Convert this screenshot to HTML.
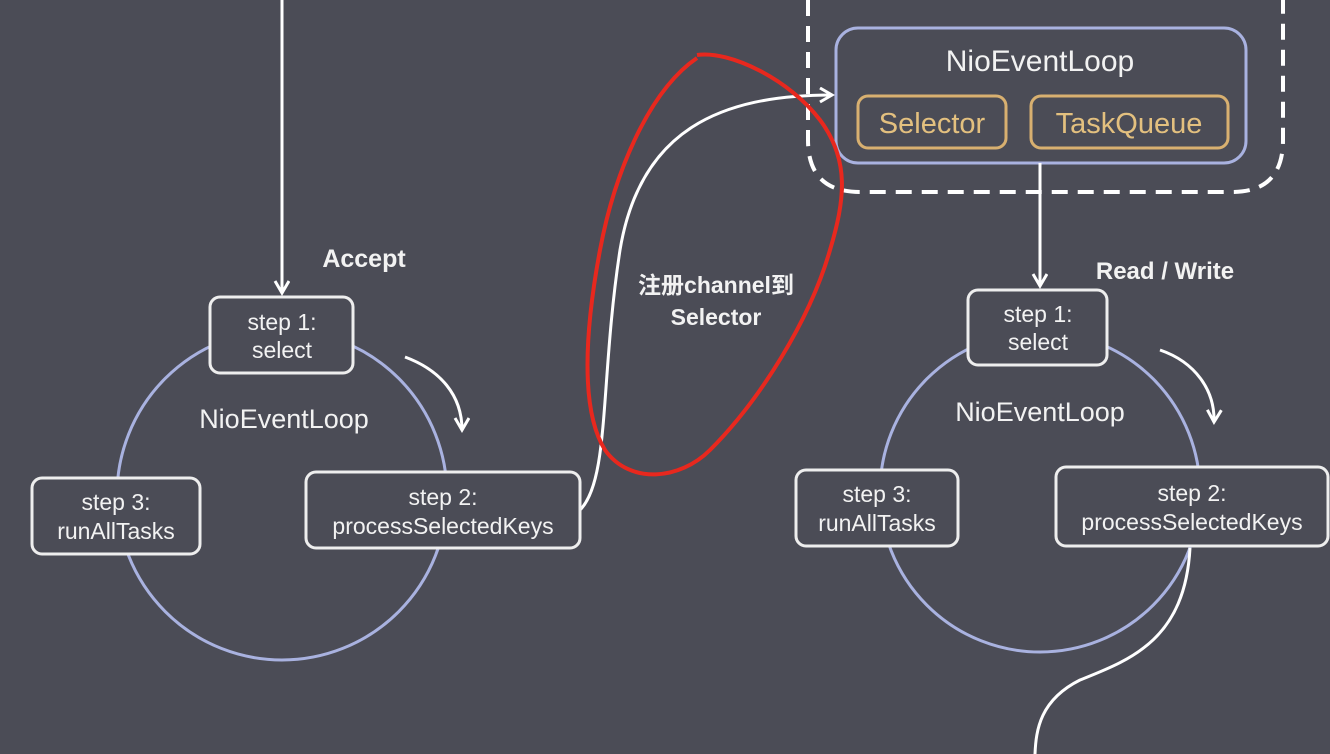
<!DOCTYPE html>
<html><head><meta charset="utf-8"><style>
html,body{margin:0;padding:0;background:#4b4c56;}
svg{display:block}
text{font-family:"Liberation Sans","Noto Sans CJK SC",sans-serif;fill:#f2f2f2;text-anchor:middle}
</style></head><body>
<svg width="1330" height="754" viewBox="0 0 1330 754">
<defs><marker id="a" markerWidth="18" markerHeight="18" refX="14" refY="8" orient="auto" markerUnits="userSpaceOnUse"><path d="M2,1 L14,8 L2,15" fill="none" stroke="#fff" stroke-width="3"/></marker></defs>
<rect width="1330" height="754" fill="#4b4c56"/>
<circle cx="282" cy="495" r="165" fill="none" stroke="#a9b2e0" stroke-width="3"/>
<circle cx="1040" cy="492" r="160" fill="none" stroke="#a9b2e0" stroke-width="3"/>
<path d="M808,0 L808,140 Q808,192 860,192 L1232,192 Q1283,192 1283,140 L1283,0" fill="none" stroke="#fff" stroke-width="4" stroke-dasharray="16,10"/>
<rect x="836" y="28" width="410" height="135" rx="22" fill="#4b4c56" stroke="#a9b2e0" stroke-width="3"/>
<text x="1040" y="71" font-size="30">NioEventLoop</text>
<rect x="858" y="96" width="148" height="52" rx="10" fill="none" stroke="#d8b070" stroke-width="3"/>
<text x="932" y="133" font-size="29" style="fill:#e3c07f">Selector</text>
<rect x="1031" y="96" width="197" height="52" rx="10" fill="none" stroke="#d8b070" stroke-width="3"/>
<text x="1129" y="133" font-size="29" style="fill:#e3c07f">TaskQueue</text>
<line x1="282" y1="0" x2="282" y2="293" stroke="#fff" stroke-width="3" marker-end="url(#a)"/>
<line x1="1040" y1="163" x2="1040" y2="286" stroke="#fff" stroke-width="3" marker-end="url(#a)"/>
<path d="M580,510 C610,480 600,380 620,250 C640,130 720,95 832,95" fill="none" stroke="#fff" stroke-width="3" marker-end="url(#a)"/>
<path d="M1190,548 C1185,640 1130,660 1080,680 C1040,700 1036,730 1035,754" fill="none" stroke="#fff" stroke-width="3"/>
<path d="M405,357 C440,370 462,395 462,430" fill="none" stroke="#fff" stroke-width="3" marker-end="url(#a)"/>
<path d="M1160,350 C1195,362 1215,390 1214,422" fill="none" stroke="#fff" stroke-width="3" marker-end="url(#a)"/>
<text x="364" y="267" font-size="25" font-weight="bold">Accept</text>
<text x="1165" y="279" font-size="24" font-weight="bold">Read / Write</text>
<text x="716" y="293" font-size="23" font-weight="bold">注册channel到</text>
<text x="716" y="325" font-size="23" font-weight="bold">Selector</text>
<text x="284" y="428" font-size="27">NioEventLoop</text>
<text x="1040" y="421" font-size="27">NioEventLoop</text>
<rect x="210" y="297" width="143" height="76" rx="10" fill="#4b4c56" stroke="#eee" stroke-width="3"/>
<text x="282" y="330" font-size="23">step 1:</text><text x="282" y="358" font-size="23">select</text>
<rect x="306" y="472" width="274" height="76" rx="10" fill="#4b4c56" stroke="#eee" stroke-width="3"/>
<text x="443" y="505" font-size="23">step 2:</text><text x="443" y="534" font-size="23">processSelectedKeys</text>
<rect x="32" y="478" width="168" height="76" rx="10" fill="#4b4c56" stroke="#eee" stroke-width="3"/>
<text x="116" y="510" font-size="23">step 3:</text><text x="116" y="539" font-size="23">runAllTasks</text>
<rect x="968" y="290" width="139" height="75" rx="10" fill="#4b4c56" stroke="#eee" stroke-width="3"/>
<text x="1038" y="322" font-size="23">step 1:</text><text x="1038" y="350" font-size="23">select</text>
<rect x="1056" y="467" width="272" height="79" rx="10" fill="#4b4c56" stroke="#eee" stroke-width="3"/>
<text x="1192" y="501" font-size="23">step 2:</text><text x="1192" y="530" font-size="23">processSelectedKeys</text>
<rect x="796" y="470" width="162" height="76" rx="10" fill="#4b4c56" stroke="#eee" stroke-width="3"/>
<text x="877" y="502" font-size="23">step 3:</text><text x="877" y="531" font-size="23">runAllTasks</text>
<path d="M697,55 C730,50 790,80 820,120 C850,160 845,200 830,250 C810,320 760,400 710,450 C680,480 630,485 605,450 C580,410 585,330 600,250 C615,170 650,90 697,58" fill="none" stroke="#e8281e" stroke-width="4"/>
</svg>
</body></html>
